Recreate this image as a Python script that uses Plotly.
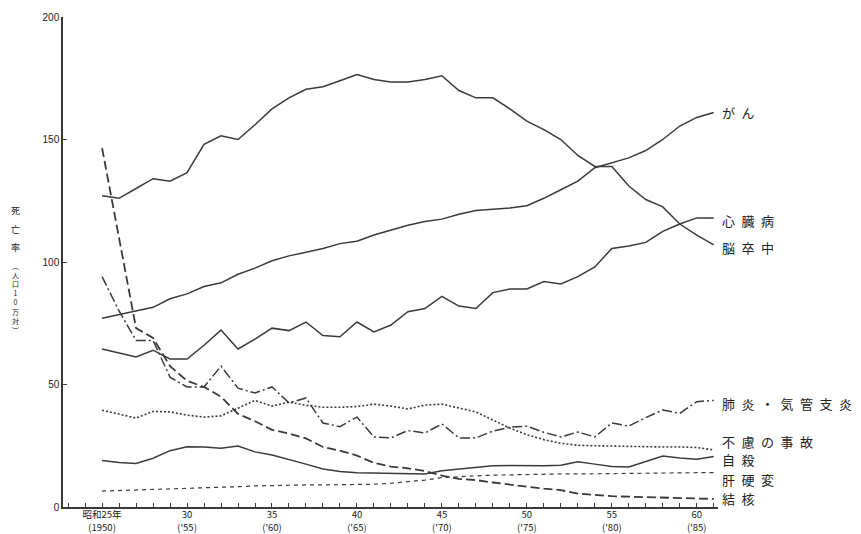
import plotly.graph_objects as go

years = list(range(1950, 1987))

stroke = [127, 126, 130, 134, 133, 136.5, 148, 151.5, 150, 156, 162.5, 167, 170.5, 171.5, 174,
          176.5, 174.5, 173.5, 173.5, 174.5, 176, 170, 167, 167, 162.5, 157.5, 154, 150, 143.5,
          139, 139, 131, 125.5, 122.5, 115.5, 111, 107]
cancer = [77, 78.5, 80, 81.5, 85, 87, 90, 91.5, 95, 97.5, 100.5, 102.5, 104, 105.5, 107.5,
          108.5, 111, 113, 115, 116.5, 117.5, 119.5, 121, 121.5, 122, 123, 126, 129.5, 133,
          138.5, 140.5, 142.5, 145.5, 150, 155.5, 159, 161]
heart = [64.5, 63, 61.2, 64, 60.4, 60.4, 66, 72.2, 64.5, 68.5, 73, 72, 75.5, 70, 69.5,
         75.5, 71.5, 74.3, 79.7, 81, 86, 82, 81, 87.5, 89, 89, 92, 91, 94,
         98, 105.5, 106.5, 108, 112.5, 115.5, 118, 118]
pneumonia = [94, 80, 68, 68, 53, 49, 49, 57.5, 48.5, 46.5, 49, 42.5, 44.5, 34.3, 32.8,
             36.7, 28.6, 28.2, 31.2, 30.2, 33.9, 28.2, 28.2, 31, 32.6, 33, 30.5, 28.6, 30.6,
             28.6, 34.3, 33, 36.5, 39.6, 38.2, 43, 43.5]
accident = [39.5, 38, 36.3, 39, 38.8, 37.5, 36.7, 37.2, 40.5, 43.5, 41.2, 42.8, 41.5, 40.7, 40.7,
            41, 42, 41.2, 40, 41.6, 42, 40.5, 38.8, 35.5, 32.2, 29.5, 27.5, 26, 25.2,
            25, 24.8, 24.6, 24.5, 24.5, 24.5, 24.3, 23.3]
suicide = [19, 18.2, 17.8, 19.9, 23, 24.6, 24.5, 24, 24.9, 22.5, 21.2, 19.5, 17.5, 15.5, 14.5,
           14, 13.8, 13.7, 13.6, 13.5, 14.8, 15.5, 16.3, 16.8, 16.9, 16.8, 16.8, 17, 18.5,
           17.5, 16.5, 16.3, 18.5, 20.8, 20, 19.5, 20.6]
liver = [6.5, 6.7, 6.9, 7.1, 7.2, 7.5, 7.7, 8.0, 8.3, 8.6, 8.8, 9, 9, 9, 9,
         9.1, 9.3, 9.7, 10.2, 11, 12, 12.5, 12.7, 13, 13.2, 13.3, 13.4, 13.5, 13.5,
         13.6, 13.7, 13.8, 13.8, 13.9, 13.9, 14, 14]
tb = [146.5, 110, 73, 69, 57.5, 51.5, 49, 45, 38, 35, 31.5, 30, 28, 24.5, 23,
      21, 18, 16.5, 15.8, 14.7, 12.8, 11.5, 11, 10, 9, 8.3, 7.5, 6.9, 5.5,
      4.8, 4.4, 4.2, 4, 3.9, 3.7, 3.5, 3.3]

tick_years = [1950, 1955, 1960, 1965, 1970, 1975, 1980, 1985]
tick_text = ["昭和25年<br>(1950)", "30<br>('55)", "35<br>('60)", "40<br>('65)",
             "45<br>('70)", "50<br>('75)", "55<br>('80)", "60<br>('85)"]

LINE = "#3a3a3a"
series = [
    ("がん", cancer, "solid", 1.5, 161),
    ("心臓病", heart, "solid", 1.5, 117),
    ("脳卒中", stroke, "solid", 1.5, 106),
    ("肺炎・気管支炎", pneumonia, "10px,3px,2px,3px", 1.5, 42.4),
    ("不慮の事故", accident, "2px,2px", 1.6, 26.8),
    ("自殺", suicide, "solid", 1.5, 19.3),
    ("肝硬変", liver, "4px,4px", 1.2, 11.2),
    ("結核", tb, "9px,4px", 1.8, 3.3),
]

fig = go.Figure()
annotations = []
SP = "\u2002"
for name, vals, dash, w, ly in series:
    fig.add_trace(go.Scatter(x=years, y=vals, mode="lines", name=name,
                             line=dict(color=LINE, width=w, dash=dash)))
    annotations.append(dict(x=1.003, y=ly, xref="paper", yref="y", text=SP.join(list(name)),
                            showarrow=False, xanchor="left", yanchor="middle",
                            font=dict(size=13, color="#222",
                                      family="Noto Sans CJK JP")))

# y-axis title (vertical)
for ch, yp in [("死", 0.606), ("亡", 0.567), ("率", 0.530)]:
    annotations.append(dict(x=-0.073, y=yp, xref="paper", yref="paper", text=ch,
                            showarrow=False, xanchor="center", yanchor="middle",
                            font=dict(size=9, color="#222", family="Noto Sans CJK JP")))
annotations.append(dict(x=-0.073, y=0.506, xref="paper", yref="paper",
                        text="<br>".join(["︵", "人", "口", "1", "0", "万", "対", "︶"]),
                        showarrow=False, xanchor="center", yanchor="top",
                        font=dict(size=7, color="#222", family="Noto Sans CJK JP")))

# the page body has an 8px margin, so the figure is 8px smaller and shifted margins
fig.update_layout(
    width=853, height=526,
    margin=dict(l=55, r=143, t=9, b=27),
    paper_bgcolor="white", plot_bgcolor="white",
    showlegend=False,
    annotations=annotations,
    xaxis=dict(range=[1947.7, 1986.25], tickvals=tick_years, ticktext=tick_text,
               showgrid=False, zeroline=False, showline=True, linecolor=LINE, linewidth=1.5,
               ticks="inside", ticklen=4, tickcolor=LINE, tickwidth=1.2,
               minor=dict(dtick=1, tick0=1950, ticks="inside", ticklen=4,
                          tickcolor=LINE, tickwidth=1.2, showgrid=False),
               tickfont=dict(size=9.5, color="#222", family="Noto Sans CJK JP"),
               ticklabelstandoff=-2,
               automargin=False),
    yaxis=dict(range=[0, 200], tickvals=[0, 50, 100, 150, 200],
               showgrid=False, zeroline=False, showline=True, linecolor=LINE, linewidth=1.5,
               ticks="inside", ticklen=4, tickcolor=LINE, tickwidth=1.2,
               tickfont=dict(size=10, color="#222", family="Liberation Sans"),
               automargin=False),
)

fig.write_html("out.html")
